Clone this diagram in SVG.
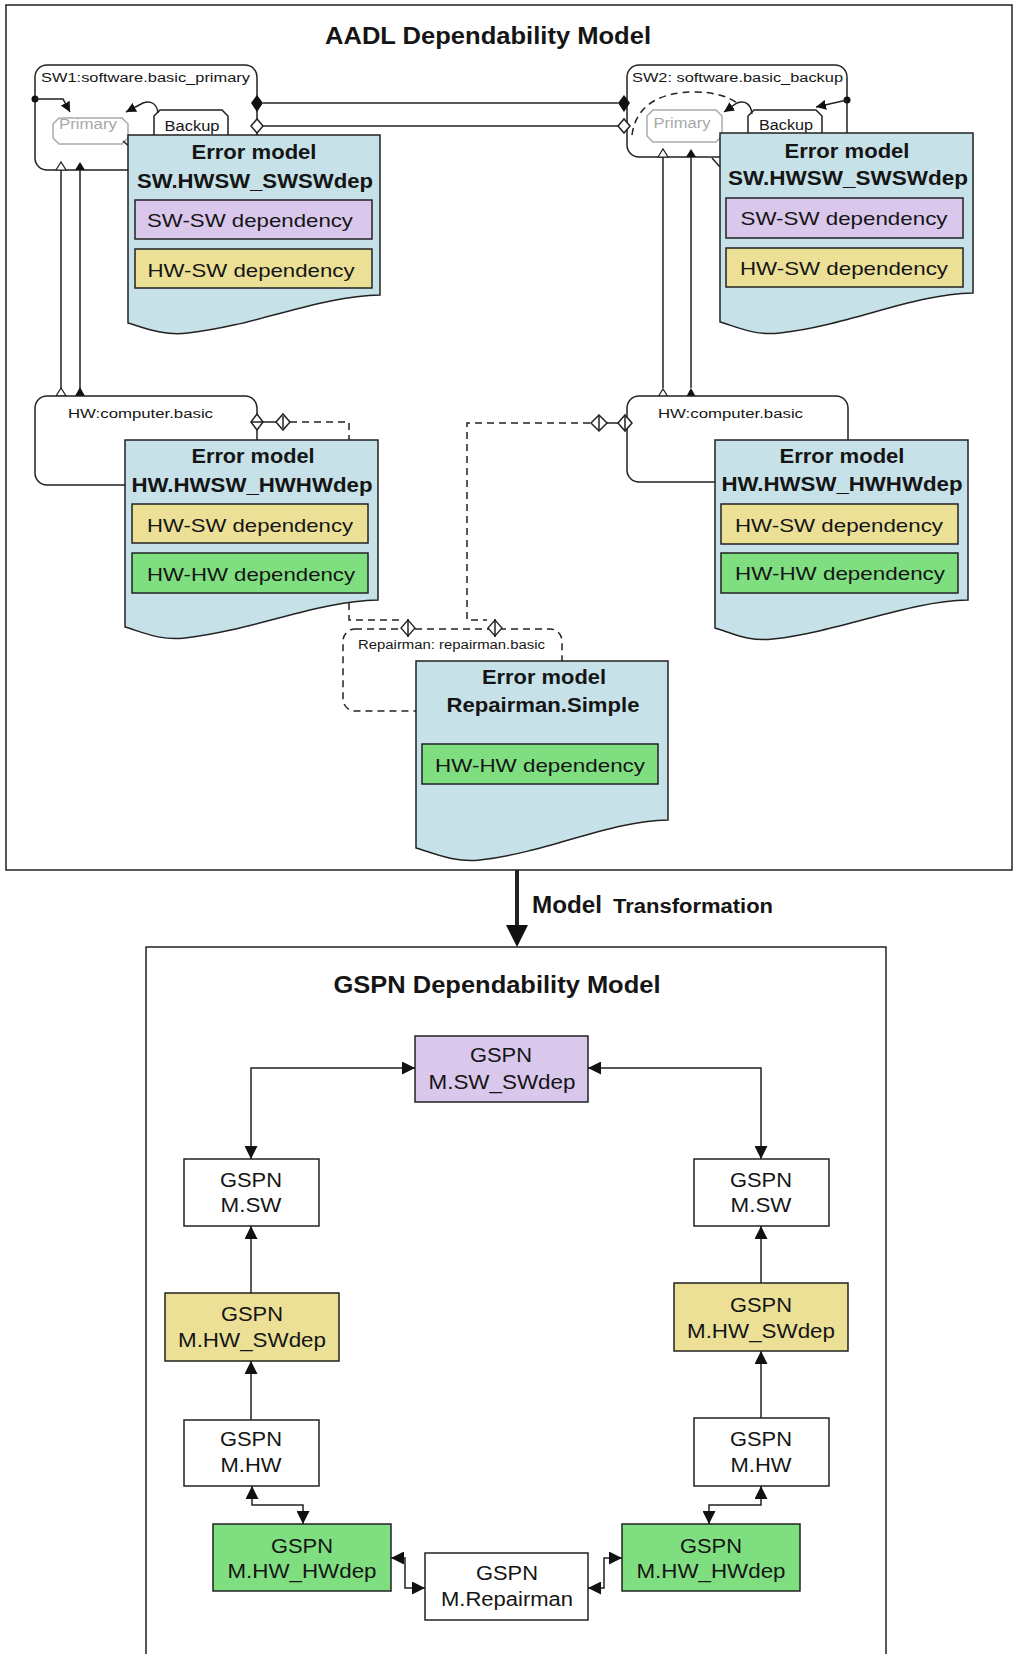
<svg xmlns="http://www.w3.org/2000/svg" width="1015" height="1654" viewBox="0 0 1015 1654">
<style>
text{font-family:"Liberation Sans",Arial,sans-serif;fill:#151515}
.t{font-size:24px;font-weight:bold}
.b{font-size:20px;font-weight:bold}
.d{font-size:19px}
.s{font-size:12.5px}
.st{font-size:14px}
.g{font-size:20px}
.frame{fill:none;stroke:#222;stroke-width:1.5}
.cont{fill:#fff;stroke:#222;stroke-width:1.5}
.em{fill:#c6e2e8;stroke:#222;stroke-width:1.5}
.pur{fill:#d9c7ec;stroke:#222;stroke-width:1.5}
.yel{fill:#ebe096;stroke:#222;stroke-width:1.5}
.grn{fill:#7fdf80;stroke:#222;stroke-width:1.5}
.wht{fill:#fff;stroke:#222;stroke-width:1.5}
.ln{fill:none;stroke:#222;stroke-width:1.5}
.dash{fill:none;stroke:#222;stroke-width:1.5;stroke-dasharray:7,5}
.gray{fill:#fff;stroke:#aaa;stroke-width:1.5}
</style>
<defs>
<marker id="ah" markerUnits="userSpaceOnUse" markerWidth="13" markerHeight="13" viewBox="0 0 12 12" refX="12" refY="6" orient="auto-start-reverse">
<path d="M0,0 L12,6 L0,12 Z" fill="#111"/>
</marker>
<marker id="sa" markerUnits="userSpaceOnUse" markerWidth="10" markerHeight="10" viewBox="0 0 10 10" refX="10" refY="5" orient="auto">
<path d="M0,0 L10,5 L0,10 Z" fill="#111"/>
</marker>
</defs>
<rect width="1015" height="1654" fill="#fff"/>

<!-- AADL frame -->
<g id="aadl-frame">
<rect class="frame" x="6" y="5" width="1006" height="865"/>
<text class="t" x="488" y="44" text-anchor="middle" textLength="326" lengthAdjust="spacingAndGlyphs">AADL Dependability Model</text>
</g>

<!-- Connectors (AADL) -->
<g id="aadl-connectors">
<line class="ln" x1="263" y1="103" x2="618" y2="103"/>
<line class="ln" x1="263" y1="126" x2="618" y2="126"/>
<line class="ln" x1="61" y1="170" x2="61" y2="388"/>
<line class="ln" x1="80" y1="170" x2="80" y2="388"/>
<line class="ln" x1="663" y1="157" x2="663" y2="388"/>
<line class="ln" x1="691" y1="157" x2="691" y2="388"/>
<line class="ln" x1="263" y1="422" x2="276" y2="422"/>
<polyline class="dash" points="290,422 349,422 349,620 400,620"/>
<line class="ln" x1="607" y1="423" x2="618" y2="423"/>
<polyline class="dash" points="590,423 467,423 467,620 487,620"/>
<line class="ln" x1="517" y1="870" x2="517" y2="928" style="stroke-width:4"/>
<polygon points="506,925 528,925 517,947" fill="#111"/>
</g>

<!-- SW1 -->
<g id="sw1">
<rect class="cont" x="35" y="65" width="222" height="105" rx="12"/>
<text class="s" x="41" y="82" textLength="209" lengthAdjust="spacingAndGlyphs">SW1:software.basic_primary</text>
<path class="gray" d="M59,118 H122 L128,124 V138 L122,144 H59 L53,138 V124 Z"/>
<text class="st" x="88" y="129" text-anchor="middle" fill="#aaa" style="fill:#a8a8a8" textLength="58" lengthAdjust="spacingAndGlyphs">Primary</text>
<path class="wht" d="M154,155 V116 L160,110 H222 L228,116 V155"/>
<text class="st" x="192" y="131" text-anchor="middle" textLength="55" lengthAdjust="spacingAndGlyphs">Backup</text>
<circle cx="35" cy="99" r="3.5" fill="#111"/>
<path class="ln" d="M35,99 H63 L70,112" marker-end="url(#sa)"/>
<path class="ln" d="M158,113 C157,104 151,100 143,103 L126,112" marker-end="url(#sa)"/>
<line class="ln" x1="123" y1="141" x2="131" y2="148"/>
<polygon points="251,103 257,95 263,103 257,112" fill="#111"/>
<polygon points="251,126 257,119 263,126 257,133" fill="#fff" stroke="#222" stroke-width="1.5"/>
<polygon points="56,170 61,162 66,170" fill="#fff" stroke="#222" stroke-width="1.2"/>
<polygon points="75,170 80,162 85,170" fill="#111"/>
<path class="em" d="M128,135 H380 V295 C320,296 258,325 188,333 C163,336 145,328 128,323 Z"/>
<text class="b" x="254" y="159" text-anchor="middle" textLength="125" lengthAdjust="spacingAndGlyphs">Error model</text>
<text class="b" x="255" y="188" text-anchor="middle" textLength="236" lengthAdjust="spacingAndGlyphs">SW.HWSW_SWSWdep</text>
<rect class="pur" x="135" y="200" width="237" height="39"/>
<text class="d" x="250" y="227" text-anchor="middle" textLength="206" lengthAdjust="spacingAndGlyphs">SW-SW dependency</text>
<rect class="yel" x="135" y="249" width="237" height="39"/>
<text class="d" x="251" y="277" text-anchor="middle" textLength="207" lengthAdjust="spacingAndGlyphs">HW-SW dependency</text>
</g>

<!-- SW2 -->
<g id="sw2">
<rect class="cont" x="627" y="65" width="220" height="92" rx="12"/>
<text class="s" x="632" y="82" textLength="211" lengthAdjust="spacingAndGlyphs">SW2: software.basic_backup</text>
<path class="gray" d="M653,110 H716 L722,116 V136 L716,142 H653 L647,136 V116 Z"/>
<text class="st" x="682" y="128" text-anchor="middle" style="fill:#a8a8a8" textLength="57" lengthAdjust="spacingAndGlyphs">Primary</text>
<path class="wht" d="M748,150 V116 L754,110 H816 L822,116 V150"/>
<text class="st" x="786" y="130" text-anchor="middle" textLength="54" lengthAdjust="spacingAndGlyphs">Backup</text>
<circle cx="847" cy="100" r="3.5" fill="#111"/>
<path class="ln" d="M847,100 L816,107" marker-end="url(#sa)"/>
<path class="ln" d="M752,114 C751,104 745,100 737,103 L724,112" marker-end="url(#sa)"/>
<path class="dash" d="M632,135 C636,105 660,92 695,92 C715,92 729,97 737,103"/>
<line class="ln" x1="712" y1="158" x2="720" y2="167"/>
<polygon points="618,103 624,95 630,103 624,112" fill="#111"/>
<polygon points="618,126 624,119 630,126 624,133" fill="#fff" stroke="#222" stroke-width="1.5"/>
<polygon points="658,157 663,149 668,157" fill="#fff" stroke="#222" stroke-width="1.2"/>
<polygon points="686,157 691,149 696,157" fill="#111"/>
<path class="em" d="M720,133 H973 V293 C913,294 850,325 780,333 C755,336 737,327 720,322 Z"/>
<text class="b" x="847" y="158" text-anchor="middle" textLength="125" lengthAdjust="spacingAndGlyphs">Error model</text>
<text class="b" x="848" y="185" text-anchor="middle" textLength="240" lengthAdjust="spacingAndGlyphs">SW.HWSW_SWSWdep</text>
<rect class="pur" x="726" y="198" width="237" height="40"/>
<text class="d" x="844" y="225" text-anchor="middle" textLength="207" lengthAdjust="spacingAndGlyphs">SW-SW dependency</text>
<rect class="yel" x="726" y="248" width="237" height="39"/>
<text class="d" x="844" y="275" text-anchor="middle" textLength="208" lengthAdjust="spacingAndGlyphs">HW-SW dependency</text>
</g>

<!-- HW1 -->
<g id="hw1">
<polygon points="56,396 61,388 66,396" fill="#fff" stroke="#222" stroke-width="1.2"/>
<polygon points="75,396 80,387 85,396" fill="#111"/>
<rect class="cont" x="35" y="396" width="222" height="89" rx="12"/>
<text class="s" x="68" y="418" textLength="145" lengthAdjust="spacingAndGlyphs">HW:computer.basic</text>
<polygon points="251,422 257,414 263,422 257,430" fill="#fff" stroke="#222" stroke-width="1.5"/>
<line class="ln" x1="251" y1="422" x2="263" y2="422"/>
<polygon points="276,422 283,414 290,422 283,430" fill="#fff" stroke="#222" stroke-width="1.5"/>
<line class="ln" x1="283" y1="416" x2="283" y2="428"/>
<path class="em" d="M125,440 H378 V600 C318,601 255,630 185,638 C160,641 142,632 125,627 Z"/>
<text class="b" x="253" y="463" text-anchor="middle" textLength="123" lengthAdjust="spacingAndGlyphs">Error model</text>
<text class="b" x="252" y="492" text-anchor="middle" textLength="241" lengthAdjust="spacingAndGlyphs">HW.HWSW_HWHWdep</text>
<rect class="yel" x="132" y="504" width="236" height="39"/>
<text class="d" x="250" y="532" text-anchor="middle" textLength="206" lengthAdjust="spacingAndGlyphs">HW-SW dependency</text>
<rect class="grn" x="132" y="553" width="236" height="40"/>
<text class="d" x="251" y="581" text-anchor="middle" textLength="208" lengthAdjust="spacingAndGlyphs">HW-HW dependency</text>
</g>

<!-- HW2 -->
<g id="hw2">
<polygon points="658,397 663,389 668,397" fill="#fff" stroke="#222" stroke-width="1.2"/>
<polygon points="686,397 691,388 696,397" fill="#111"/>
<rect class="cont" x="627" y="396" width="221" height="86" rx="12"/>
<text class="s" x="658" y="418" textLength="145" lengthAdjust="spacingAndGlyphs">HW:computer.basic</text>
<polygon points="591,423 599,415 607,423 599,431" fill="#fff" stroke="#222" stroke-width="1.5"/>
<line class="ln" x1="599" y1="416" x2="599" y2="430"/>
<polygon points="618,423 625,415 632,423 625,431" fill="#fff" stroke="#222" stroke-width="1.5"/>
<line class="ln" x1="625" y1="416" x2="625" y2="430"/>
<path class="em" d="M715,440 H968 V600 C908,601 843,631 773,639 C748,642 732,633 715,628 Z"/>
<text class="b" x="842" y="463" text-anchor="middle" textLength="125" lengthAdjust="spacingAndGlyphs">Error model</text>
<text class="b" x="842" y="491" text-anchor="middle" textLength="241" lengthAdjust="spacingAndGlyphs">HW.HWSW_HWHWdep</text>
<rect class="yel" x="721" y="504" width="237" height="40"/>
<text class="d" x="839" y="532" text-anchor="middle" textLength="208" lengthAdjust="spacingAndGlyphs">HW-SW dependency</text>
<rect class="grn" x="721" y="553" width="237" height="40"/>
<text class="d" x="840" y="580" text-anchor="middle" textLength="210" lengthAdjust="spacingAndGlyphs">HW-HW dependency</text>
</g>

<!-- Repairman -->
<g id="repairman">
<rect class="dash" x="343" y="629" width="219" height="82" rx="12" style="fill:#fff"/>
<text class="s" x="358" y="649" textLength="187" lengthAdjust="spacingAndGlyphs">Repairman: repairman.basic</text>
<polygon points="401,628 408,620 415,628 408,636" fill="#fff" stroke="#222" stroke-width="1.3"/>
<line class="ln" x1="408" y1="619" x2="408" y2="637"/>
<polygon points="488,628 495,620 502,628 495,636" fill="#fff" stroke="#222" stroke-width="1.3"/>
<line class="ln" x1="495" y1="619" x2="495" y2="637"/>
<path class="em" d="M416,661 H668 V820 C608,821 550,852 480,860 C455,863 433,853 416,848 Z"/>
<text class="b" x="544" y="684" text-anchor="middle" textLength="124" lengthAdjust="spacingAndGlyphs">Error model</text>
<text class="b" x="543" y="712" text-anchor="middle" textLength="193" lengthAdjust="spacingAndGlyphs">Repairman.Simple</text>
<rect class="grn" x="422" y="744" width="236" height="40"/>
<text class="d" x="540" y="772" text-anchor="middle" textLength="210" lengthAdjust="spacingAndGlyphs">HW-HW dependency</text>
</g>

<g id="transformation-label">
<text class="t" x="532" y="913" textLength="70" lengthAdjust="spacingAndGlyphs">Model</text>
<text x="613" y="913" style="font-size:20px;font-weight:bold" textLength="160" lengthAdjust="spacingAndGlyphs">Transformation</text>
</g>

<!-- GSPN frame -->
<g id="gspn-frame">
<rect class="frame" x="146" y="947" width="740" height="730"/>
<text class="t" x="497" y="993" text-anchor="middle" textLength="327" lengthAdjust="spacingAndGlyphs">GSPN Dependability Model</text>
</g>

<!-- GSPN connectors -->
<g id="gspn-connectors">
<path class="ln" d="M251,1159 V1068 H415" marker-start="url(#ah)" marker-end="url(#ah)"/>
<path class="ln" d="M761,1159 V1068 H588" marker-start="url(#ah)" marker-end="url(#ah)"/>
<path class="ln" d="M251,1293 V1226" marker-end="url(#ah)"/>
<path class="ln" d="M761,1283 V1226" marker-end="url(#ah)"/>
<path class="ln" d="M251,1420 V1361" marker-end="url(#ah)"/>
<path class="ln" d="M761,1418 V1351" marker-end="url(#ah)"/>
<path class="ln" d="M252,1486 V1505 H303 V1524" marker-start="url(#ah)" marker-end="url(#ah)"/>
<path class="ln" d="M761,1486 V1505 H709 V1524" marker-start="url(#ah)" marker-end="url(#ah)"/>
<path class="ln" d="M391,1558 H405 V1588 H425" marker-start="url(#ah)" marker-end="url(#ah)"/>
<path class="ln" d="M588,1588 H604 V1558 H622" marker-start="url(#ah)" marker-end="url(#ah)"/>
</g>

<g id="gspn-swsw">
<rect class="pur" x="415" y="1036" width="173" height="66"/>
<text class="g" x="501" y="1062" text-anchor="middle" textLength="62" lengthAdjust="spacingAndGlyphs">GSPN</text>
<text class="g" x="502" y="1089" text-anchor="middle" textLength="147" lengthAdjust="spacingAndGlyphs">M.SW_SWdep</text>
</g>
<g id="gspn-sw-left">
<rect class="wht" x="184" y="1159" width="135" height="67"/>
<text class="g" x="251" y="1187" text-anchor="middle" textLength="62" lengthAdjust="spacingAndGlyphs">GSPN</text>
<text class="g" x="251" y="1212" text-anchor="middle" textLength="61" lengthAdjust="spacingAndGlyphs">M.SW</text>
</g>
<g id="gspn-sw-right">
<rect class="wht" x="694" y="1159" width="135" height="67"/>
<text class="g" x="761" y="1187" text-anchor="middle" textLength="62" lengthAdjust="spacingAndGlyphs">GSPN</text>
<text class="g" x="761" y="1212" text-anchor="middle" textLength="61" lengthAdjust="spacingAndGlyphs">M.SW</text>
</g>
<g id="gspn-hwsw-left">
<rect class="yel" x="165" y="1293" width="174" height="68"/>
<text class="g" x="252" y="1321" text-anchor="middle" textLength="62" lengthAdjust="spacingAndGlyphs">GSPN</text>
<text class="g" x="252" y="1347" text-anchor="middle" textLength="148" lengthAdjust="spacingAndGlyphs">M.HW_SWdep</text>
</g>
<g id="gspn-hwsw-right">
<rect class="yel" x="674" y="1283" width="174" height="68"/>
<text class="g" x="761" y="1312" text-anchor="middle" textLength="62" lengthAdjust="spacingAndGlyphs">GSPN</text>
<text class="g" x="761" y="1338" text-anchor="middle" textLength="148" lengthAdjust="spacingAndGlyphs">M.HW_SWdep</text>
</g>
<g id="gspn-hw-left">
<rect class="wht" x="184" y="1420" width="135" height="66"/>
<text class="g" x="251" y="1446" text-anchor="middle" textLength="62" lengthAdjust="spacingAndGlyphs">GSPN</text>
<text class="g" x="251" y="1472" text-anchor="middle" textLength="61" lengthAdjust="spacingAndGlyphs">M.HW</text>
</g>
<g id="gspn-hw-right">
<rect class="wht" x="694" y="1418" width="135" height="68"/>
<text class="g" x="761" y="1446" text-anchor="middle" textLength="62" lengthAdjust="spacingAndGlyphs">GSPN</text>
<text class="g" x="761" y="1472" text-anchor="middle" textLength="61" lengthAdjust="spacingAndGlyphs">M.HW</text>
</g>
<g id="gspn-hwhw-left">
<rect class="grn" x="213" y="1524" width="178" height="67"/>
<text class="g" x="302" y="1553" text-anchor="middle" textLength="62" lengthAdjust="spacingAndGlyphs">GSPN</text>
<text class="g" x="302" y="1578" text-anchor="middle" textLength="149" lengthAdjust="spacingAndGlyphs">M.HW_HWdep</text>
</g>
<g id="gspn-hwhw-right">
<rect class="grn" x="622" y="1524" width="178" height="67"/>
<text class="g" x="711" y="1553" text-anchor="middle" textLength="62" lengthAdjust="spacingAndGlyphs">GSPN</text>
<text class="g" x="711" y="1578" text-anchor="middle" textLength="149" lengthAdjust="spacingAndGlyphs">M.HW_HWdep</text>
</g>
<g id="gspn-repairman">
<rect class="wht" x="425" y="1553" width="163" height="67"/>
<text class="g" x="507" y="1580" text-anchor="middle" textLength="62" lengthAdjust="spacingAndGlyphs">GSPN</text>
<text class="g" x="507" y="1606" text-anchor="middle" textLength="132" lengthAdjust="spacingAndGlyphs">M.Repairman</text>
</g>
</svg>
